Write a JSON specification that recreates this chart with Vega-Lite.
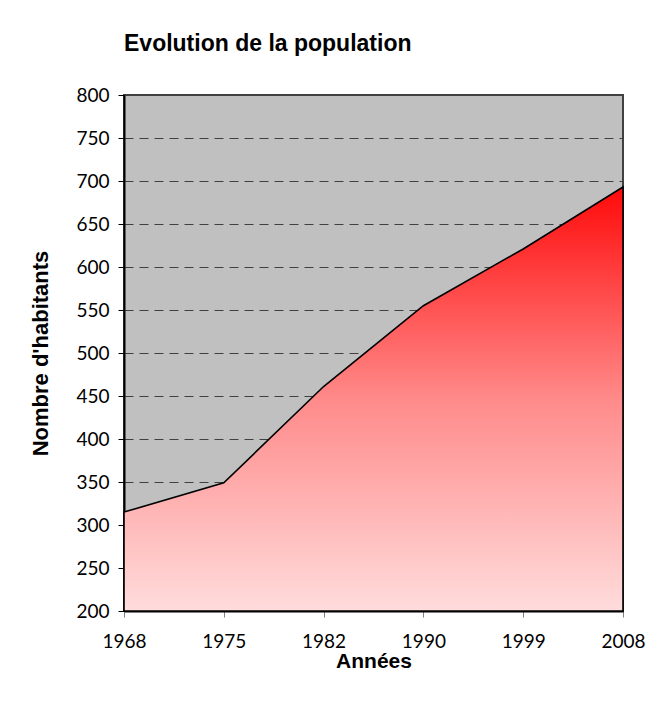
{
  "$schema": "https://vega.github.io/schema/vega-lite/v6.json",
  "width": 499,
  "height": 516,
  "autosize": "none",
  "padding": {"left": 124, "top": 95, "right": 29, "bottom": 97},
  "background": "white",
  "title": {
    "text": "Evolution de la population",
    "anchor": "start",
    "frame": "group",
    "font": "Liberation Sans",
    "fontSize": 23,
    "fontWeight": "bold",
    "color": "black",
    "baseline": "alphabetic",
    "offset": 12,
    "dx": 0
  },
  "data": {
    "values": [
      {"annee": "1968", "habitants": 315},
      {"annee": "1975", "habitants": 349},
      {"annee": "1982", "habitants": 461},
      {"annee": "1990", "habitants": 555},
      {"annee": "1999", "habitants": 621},
      {"annee": "2008", "habitants": 693}
    ]
  },
  "mark": {
    "type": "area",
    "stroke": "black",
    "strokeWidth": 1.6,
    "strokeJoin": "miter",
    "color": {
      "gradient": "linear",
      "x1": 0, "y1": 1, "x2": 0, "y2": 0,
      "stops": [
        {"offset": 0, "color": "#FFDCDC"},
        {"offset": 0.5, "color": "#FF8A8A"},
        {"offset": 1, "color": "#FF0A0A"}
      ]
    },
    "fillOpacity": 1
  },
  "encoding": {
    "x": {
      "field": "annee",
      "type": "ordinal",
      "sort": null,
      "scale": {"type": "point", "padding": 0},
      "axis": {
        "title": "Années",
        "labelAngle": 0,
        "labelFont": "Lato",
        "labelFontSize": 19,
        "labelColor": "black",
        "labelPadding": 15,
        "tickSize": 6,
        "tickColor": "#808080",
        "domainColor": "black",
        "domainWidth": 2,
        "titleFont": "Liberation Sans",
        "titleFontSize": 21,
        "titleFontWeight": "bold",
        "titleColor": "black",
        "titlePadding": -1,
        "grid": false
      }
    },
    "y": {
      "field": "habitants",
      "type": "quantitative",
      "scale": {"domain": [200, 800], "nice": false, "zero": false},
      "axis": {
        "title": "Nombre d'habitants",
        "values": [200, 250, 300, 350, 400, 450, 500, 550, 600, 650, 700, 750, 800],
        "labelFont": "Lato",
        "labelFontSize": 19,
        "labelColor": "black",
        "labelPadding": 9,
        "tickSize": 6,
        "tickColor": "black",
        "domainColor": "black",
        "domainWidth": 2,
        "grid": true,
        "gridColor": "#404040",
        "gridDash": [9, 6],
        "gridWidth": 1,
        "titleFont": "Liberation Sans",
        "titleFontSize": 22,
        "titleFontWeight": "bold",
        "titleColor": "black",
        "titlePadding": 23
      }
    },
    "y2": {"datum": 200}
  },
  "config": {
    "view": {"fill": "#C0C0C0", "stroke": "#404040", "strokeWidth": 2}
  }
}
